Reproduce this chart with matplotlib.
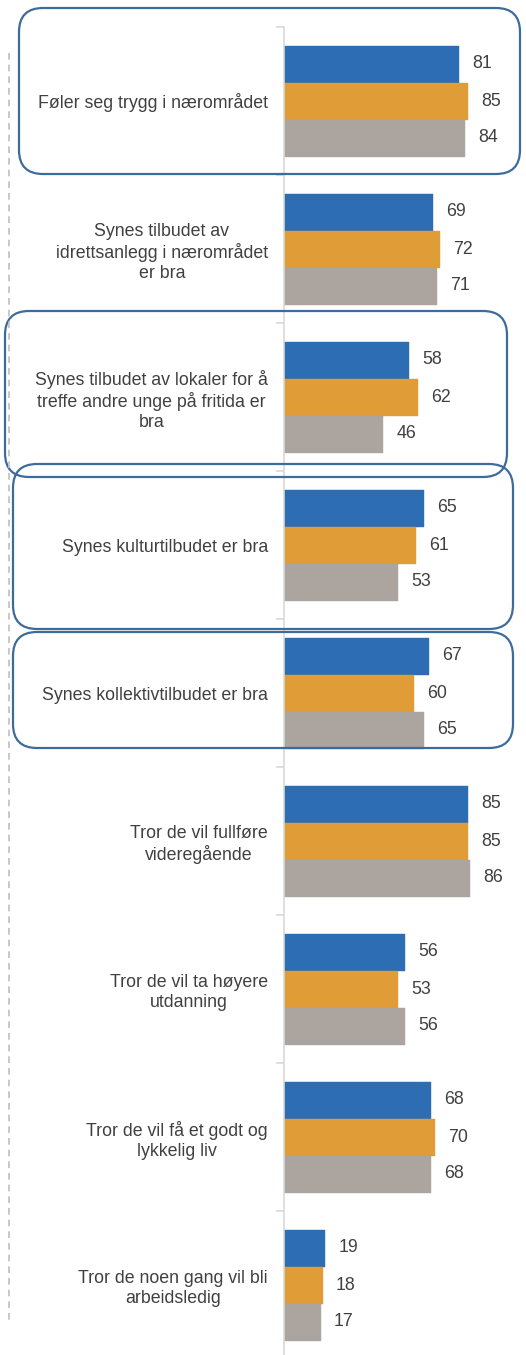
import matplotlib
matplotlib.use("Agg")
import matplotlib.pyplot as plt
from matplotlib.patches import FancyBboxPatch
from matplotlib.lines import Line2D
from matplotlib.transforms import Affine2D
import numpy as np

plt.rcParams['font.family'] = ['Liberation Sans', 'DejaVu Sans']

categories = [
    "Føler seg trygg i nærområdet",
    "Synes tilbudet av\nidrettsanlegg i nærområdet\ner bra",
    "Synes tilbudet av lokaler for å\ntreffe andre unge på fritida er\nbra",
    "Synes kulturtilbudet er bra",
    "Synes kollektivtilbudet er bra",
    "Tror de vil fullføre\nvideregående",
    "Tror de vil ta høyere\nutdanning",
    "Tror de vil få et godt og\nlykkelig liv",
    "Tror de noen gang vil bli\narbeidsledig",
]
series_blue = [81, 69, 58, 65, 67, 85, 56, 68, 19]
series_orange = [85, 72, 62, 61, 60, 85, 53, 70, 18]
series_gray = [84, 71, 46, 53, 65, 86, 56, 68, 17]

W, H = 526, 1355
DPI = 100
fig = plt.figure(figsize=(W / DPI, H / DPI), dpi=DPI)

ax_left_px = 284
ax_top_px = 27
ax = fig.add_axes([ax_left_px / W, 0, (W - ax_left_px) / W, (H - ax_top_px) / H])

n = len(categories)
centers = np.arange(n) + 0.5
bh = 0.25
colors = ["#2D6DB4", "#E09C36", "#ACA59F"]
text_color = "#404040"
fs = 12.8

for k, (vals, col) in enumerate(zip([series_blue, series_orange, series_gray], colors)):
    bars = ax.barh(centers + (k - 1) * bh, vals, height=bh, color=col,
                   edgecolor=col, linewidth=0.3)
    ax.bar_label(bars, labels=[str(v) for v in vals], padding=9.5,
                 fontsize=fs, color=text_color)

ax.set_xlim(0, (W - ax_left_px) / 2.16)
ax.set_ylim((H - ax_top_px) / 148.0, 0)

for s in ["top", "right", "bottom"]:
    ax.spines[s].set_visible(False)
ax.spines["left"].set_color("#D9D9D9")
ax.spines["left"].set_linewidth(1.2)
ax.set_xticks([])

ax.set_yticks(np.arange(n))
ax.set_yticklabels([])
ax.tick_params(axis="y", which="major", length=6, color="#D9D9D9", width=1.2)
ax.set_yticks(centers, minor=True)
ax.set_yticklabels(categories, minor=True, fontsize=fs, color=text_color)
ax.tick_params(axis="y", which="minor", length=0, pad=11.5)
for t in ax.get_yticklabels(minor=True):
    t.set_multialignment("center")

# pixel transform (origin bottom-left, pixels)
pix = Affine2D().scale(1 / W, 1 / H) + fig.transFigure

# dashed vertical line at left (y given from top)
fig.add_artist(Line2D([9, 9], [H - 53, H - 1323], transform=pix, color="#BFBFBF",
                      linewidth=1.2, linestyle=(0, (4, 3))))

# rounded highlight boxes (x0, y_top, x1, y_bottom) in pixels from top-left
boxes = [
    (19, 8, 520, 174),
    (5, 311, 507, 477),
    (13, 464, 513, 629),
    (13, 632, 513, 748),
]
for x0, y0, x1, y1 in boxes:
    p = FancyBboxPatch((x0, H - y1), x1 - x0, y1 - y0,
                       boxstyle="round,pad=0,rounding_size=24",
                       transform=pix, fill=False, edgecolor="#3D6C9C",
                       linewidth=1.6)
    fig.add_artist(p)

fig.savefig("out.png", dpi=DPI)
